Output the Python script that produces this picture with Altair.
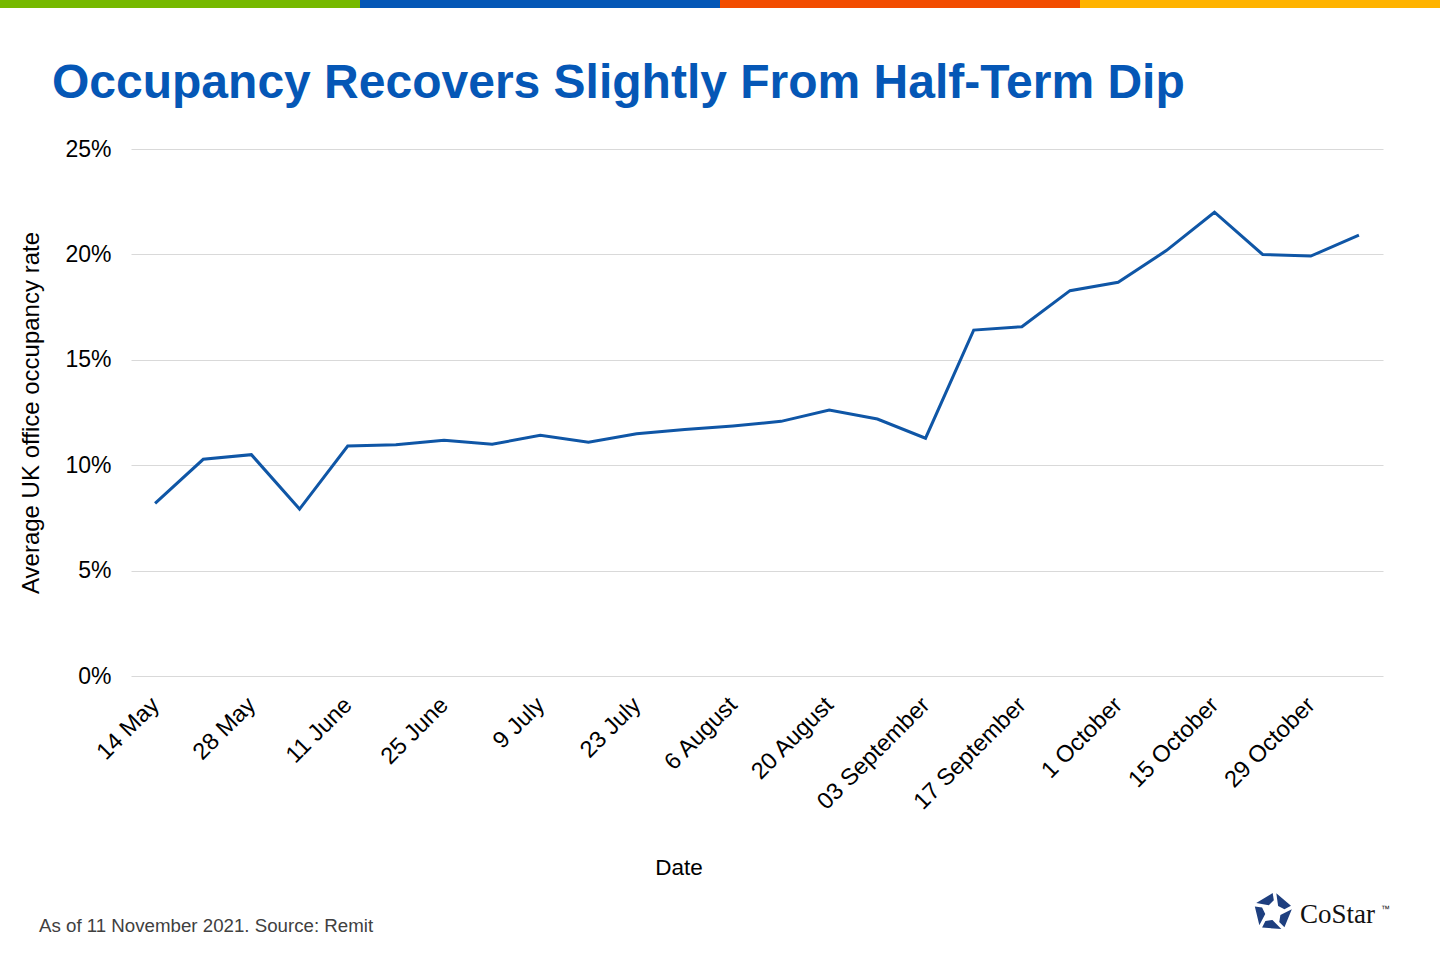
import math
import altair as alt
import pandas as pd

dates = ["14 May", "21 May", "28 May", "4 June", "11 June", "18 June", "25 June",
         "2 July", "9 July", "16 July", "23 July", "30 July", "6 August", "13 August",
         "20 August", "27 August", "03 September", "10 September", "17 September",
         "24 September", "1 October", "8 October", "15 October", "22 October",
         "29 October", "5 November"]
occupancy = [8.19, 10.28, 10.50, 7.92, 10.91, 10.97, 11.18, 10.99, 11.42, 11.09,
             11.49, 11.69, 11.86, 12.08, 12.62, 12.19, 11.28, 16.41, 16.57, 18.28,
             18.68, 20.18, 22.00, 20.00, 19.92, 20.92]
tick_labels = dates[::2]
y_ticks = [0, 5, 10, 15, 20, 25]

title_text = "Occupancy Recovers Slightly From Half-Term Dip"
note_text = "As of 11 November 2021. Source: Remit"
bar_colors = ["#76b900", "#0557b6", "#f24c00", "#ffb300"]

FONT = "Liberation Sans"
W, H = 1252, 527
LEFT, TOP = 131, 149

df = pd.DataFrame({"date": dates, "occ": occupancy})

x_enc = alt.X("date:N", sort=dates, title=None,
              scale=alt.Scale(type="point", padding=0.5),
              axis=alt.Axis(values=tick_labels, labelAngle=-45, labelAlign="right",
                            labelBaseline="middle", labelPadding=25, labelFontSize=23.5,
                            labelFont=FONT, labelColor="#000000", domain=False,
                            ticks=False, grid=False, labelOverlap=False))
y_enc = alt.Y("occ:Q", title="Average UK office occupancy rate",
              scale=alt.Scale(domain=[0, 25], nice=False),
              axis=alt.Axis(values=y_ticks, labelExpr="datum.value + '%'",
                            labelFontSize=23, labelFont=FONT, labelColor="#000000",
                            labelPadding=20, domain=False, ticks=False,
                            gridColor="#d9d9d9", gridWidth=1,
                            titleFont=FONT, titleFontSize=24, titleFontWeight="normal",
                            titleColor="#000000", titlePadding=21))

line = alt.Chart(df).mark_line(color="#0f56a6", strokeWidth=3).encode(x=x_enc, y=y_enc)

one = pd.DataFrame({"t": [""]})

def text_layer(txt, x, y, size, color="#000000", weight="normal", font=FONT, align="left"):
    d = pd.DataFrame({"t": [txt]})
    return alt.Chart(d).mark_text(fontSize=size, font=font, fontWeight=weight, color=color,
                                  align=align, baseline="alphabetic").encode(
        text="t:N", x=alt.value(x), y=alt.value(y))

title = text_layer(title_text, 52 - LEFT, 98 - TOP, 48, "#0557b6", "bold")
note = text_layer(note_text, 39 - LEFT, 932 - TOP, 18.7, "#404040")
xtitle = text_layer("Date", 679 - LEFT, 875 - TOP, 22.5, align="center")
brand = text_layer("CoStar", 1300 - LEFT, 923 - TOP, 27, "#111111", font="Liberation Serif")
tm = text_layer("™", 1381 - LEFT, 912 - TOP, 9, "#111111")

bars = []
for i, c in enumerate(bar_colors):
    bars.append(alt.Chart(one).mark_rect(color=c).encode(
        x=alt.value(i * 360 - LEFT), x2=alt.value((i + 1) * 360 - LEFT),
        y=alt.value(-TOP), y2=alt.value(8 - TOP)))

# CoStar logo: five pinwheel pieces of a pentagon
def pt(r, deg):
    a = math.radians(deg)
    return f"{r * math.cos(a):.3f},{r * math.sin(a):.3f}"

parts = []
for k in range(5):
    a0 = -90 + 72 * k
    a1 = a0 + 72
    parts.append("M" + pt(1.0, a0 + 10) + "L" + pt(1.0, a1 - 1) + "L" + pt(0.62, a1 + 4)
                 + "L" + pt(0.42, a0 + 40) + "Z")
logo_path = " ".join(parts)
logo = alt.Chart(one).mark_point(shape=logo_path, filled=True, color="#1e3f7f",
                                 size=1444, opacity=1, strokeWidth=0).encode(
    x=alt.value(1273 - LEFT), y=alt.value(912 - TOP))

chart = alt.layer(line, *bars, title, note, xtitle, brand, tm, logo).properties(
    width=W, height=H,
    autosize=alt.AutoSizeParams(type="none"),
    padding={"left": LEFT, "top": TOP, "right": 1440 - LEFT - W, "bottom": 960 - TOP - H},
    background="#ffffff",
).configure_view(stroke=None)

chart.save("out.html", embed_options={"renderer": "svg", "actions": False})
